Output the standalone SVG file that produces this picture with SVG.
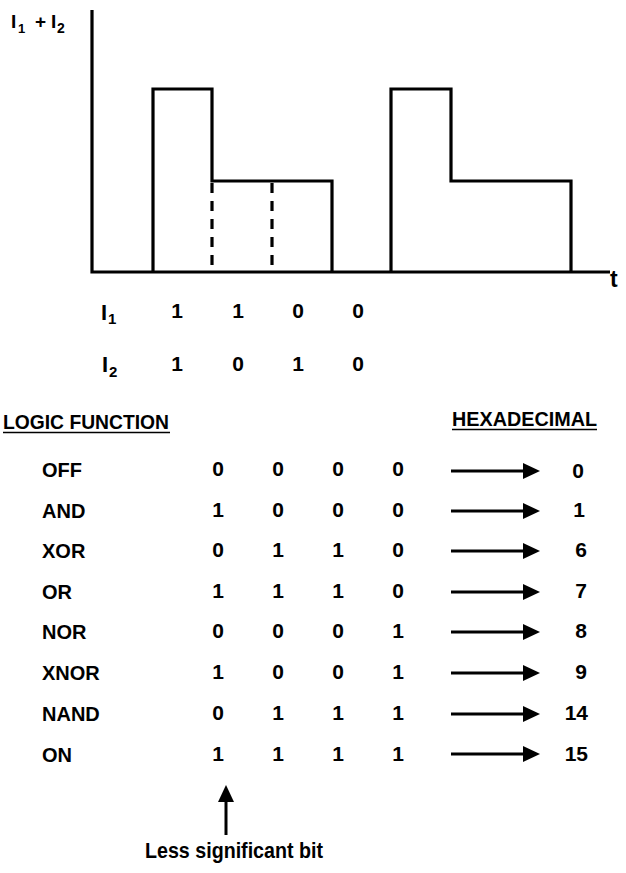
<svg xmlns="http://www.w3.org/2000/svg" width="626" height="873" viewBox="0 0 626 873">
<defs>
<style>
.t{font-family:"Liberation Sans",Arial,sans-serif;font-weight:bold;fill:#000}
.lbl{font-size:20px}
.dig{font-size:21px;text-anchor:middle}
.hex{font-size:21px;text-anchor:end}
.ax{stroke:#000;stroke-width:3.2;fill:none}
.dash{stroke:#000;stroke-width:3.2;stroke-dasharray:10 8;fill:none}
.arr{stroke:#000;stroke-width:3;fill:none;marker-end:url(#ah)}
.ul{stroke:#000;stroke-width:1.5}
</style>
<marker id="ah" markerUnits="userSpaceOnUse" markerWidth="17" markerHeight="17" refX="0" refY="8" orient="auto">
<path d="M0,0 L17,8 L0,16 z" fill="#000"/>
</marker>
</defs>
<rect width="626" height="873" fill="#fff"/>

<g id="graph">
<path class="ax" d="M92,10 V272 H610"/>
<path class="ax" d="M153,272 V89 H212 V181 H332 V272"/>
<path class="ax" d="M391,272 V89 H451 V181 H571 V272"/>
<path class="dash" d="M212,183 V272"/>
<path class="dash" d="M272,183 V272"/>
<text class="t" x="11" y="28" font-size="19">I</text>
<text class="t" x="18" y="33" font-size="13">1</text>
<text class="t" x="35" y="28" font-size="19">+</text>
<text class="t" x="51" y="28" font-size="19">I</text>
<text class="t" x="57" y="33" font-size="14">2</text>
<text class="t" x="610" y="287" font-size="23">t</text>
</g>

<g id="inputs">
<text class="t" x="101" y="320" font-size="22">I</text>
<text class="t" x="108" y="324" font-size="15">1</text>
<text class="t dig" x="177" y="318">1</text>
<text class="t dig" x="238" y="318">1</text>
<text class="t dig" x="298" y="318">0</text>
<text class="t dig" x="358" y="318">0</text>
<text class="t" x="102" y="372" font-size="22">I</text>
<text class="t" x="109" y="377" font-size="15">2</text>
<text class="t dig" x="177" y="371">1</text>
<text class="t dig" x="238" y="371">0</text>
<text class="t dig" x="298" y="371">1</text>
<text class="t dig" x="358" y="371">0</text>
</g>

<g id="headers">
<text class="t lbl" x="3" y="429" textLength="166" lengthAdjust="spacingAndGlyphs">LOGIC FUNCTION</text>
<line class="ul" x1="3" y1="432.5" x2="170" y2="432.5"/>
<text class="t lbl" x="452" y="426" textLength="145" lengthAdjust="spacingAndGlyphs">HEXADECIMAL</text>
<line class="ul" x1="452" y1="429.5" x2="597" y2="429.5"/>
</g>

<g id="row-off">
<text class="t lbl" x="42" y="477">OFF</text>
<text class="t dig" x="218" y="476">0</text><text class="t dig" x="278" y="476">0</text><text class="t dig" x="338" y="476">0</text><text class="t dig" x="398" y="476">0</text>
<text class="t hex" x="584" y="478" font-size="17">0</text>
</g>
<g id="row-and">
<text class="t lbl" x="42" y="518">AND</text>
<text class="t dig" x="218" y="517">1</text><text class="t dig" x="278" y="517">0</text><text class="t dig" x="338" y="517">0</text><text class="t dig" x="398" y="517">0</text>
<text class="t hex" x="585" y="517">1</text>
</g>
<g id="row-xor">
<text class="t lbl" x="42" y="558">XOR</text>
<text class="t dig" x="218" y="557">0</text><text class="t dig" x="278" y="557">1</text><text class="t dig" x="338" y="557">1</text><text class="t dig" x="398" y="557">0</text>
<text class="t hex" x="587" y="557">6</text>
</g>
<g id="row-or">
<text class="t lbl" x="42" y="599">OR</text>
<text class="t dig" x="218" y="598">1</text><text class="t dig" x="278" y="598">1</text><text class="t dig" x="338" y="598">1</text><text class="t dig" x="398" y="598">0</text>
<text class="t hex" x="587" y="598">7</text>
</g>
<g id="row-nor">
<text class="t lbl" x="42" y="639">NOR</text>
<text class="t dig" x="218" y="638">0</text><text class="t dig" x="278" y="638">0</text><text class="t dig" x="338" y="638">0</text><text class="t dig" x="398" y="638">1</text>
<text class="t hex" x="587" y="638">8</text>
</g>
<g id="row-xnor">
<text class="t lbl" x="42" y="680">XNOR</text>
<text class="t dig" x="218" y="679">1</text><text class="t dig" x="278" y="679">0</text><text class="t dig" x="338" y="679">0</text><text class="t dig" x="398" y="679">1</text>
<text class="t hex" x="587" y="679">9</text>
</g>
<g id="row-nand">
<text class="t lbl" x="42" y="721">NAND</text>
<text class="t dig" x="218" y="720">0</text><text class="t dig" x="278" y="720">1</text><text class="t dig" x="338" y="720">1</text><text class="t dig" x="398" y="720">1</text>
<text class="t hex" x="588" y="720">14</text>
</g>
<g id="row-on">
<text class="t lbl" x="42" y="762">ON</text>
<text class="t dig" x="218" y="761">1</text><text class="t dig" x="278" y="761">1</text><text class="t dig" x="338" y="761">1</text><text class="t dig" x="398" y="761">1</text>
<text class="t hex" x="588" y="761">15</text>
</g>

<g id="lsb-label">
<text class="t" x="234" y="858" font-size="22" text-anchor="middle" textLength="178" lengthAdjust="spacingAndGlyphs">Less significant bit</text>
</g>

<g id="connectors">
<line class="arr" x1="451" y1="471" x2="523" y2="471"/>
<line class="arr" x1="451" y1="511" x2="523" y2="511"/>
<line class="arr" x1="451" y1="551" x2="523" y2="551"/>
<line class="arr" x1="451" y1="592" x2="523" y2="592"/>
<line class="arr" x1="451" y1="632" x2="523" y2="632"/>
<line class="arr" x1="451" y1="673" x2="523" y2="673"/>
<line class="arr" x1="451" y1="714" x2="523" y2="714"/>
<line class="arr" x1="451" y1="754" x2="523" y2="754"/>
<line class="arr" x1="226" y1="835" x2="226" y2="802"/>
</g>
</svg>
